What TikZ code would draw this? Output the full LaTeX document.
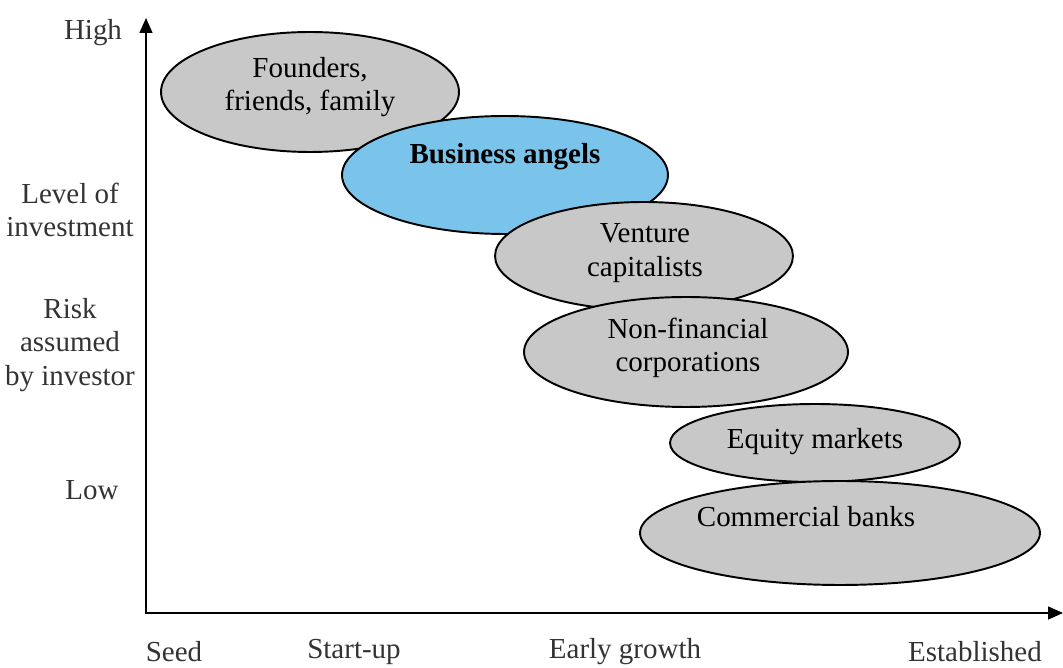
\documentclass[tikz,border=0pt]{standalone}
\usepackage{fontspec}
\setmainfont{Liberation Serif}
\newfontfamily\stagefont{Liberation Serif}
\usepackage{tikz}
\usetikzlibrary{positioning, arrows.meta, shapes.geometric}
\usepackage{xcolor}
\definecolor{stagegray}{RGB}{200,200,200}
\definecolor{angelblue}{RGB}{122,196,236}

\begin{document}
\begin{tikzpicture}[
    x=0.02cm, y=-0.02cm,
    font=\stagefont\fontsize{16.5}{19}\selectfont,
    stage/.style={ellipse,draw,line width=1.1pt,fill=stagegray,inner sep=0pt},
    txt/.style={align=center,inner sep=0pt},
    axlab/.style={align=center,text=black!80},
    axtip/.tip={Triangle[length=3mm,width=2.6mm]}
    ]
    \useasboundingbox (0,0) rectangle (1063,668);
    % axes
    \coordinate (ytop) at (146,18);
    \coordinate (xend) at (1063,613);
    \draw [line width=0.8pt,axtip-axtip] (ytop) |- (xend);
    % stages of financing
    \node [stage, minimum width=5.96cm, minimum height=2.4cm] (fff) at (310,92) {};
    \node [txt] (fffl) at (310,87) {Founders,\\friends, family};
    \node [stage, fill=angelblue, minimum width=6.52cm, minimum height=2.36cm] (ba) at (505,175) {};
    \node [txt, font=\stagefont\fontsize{16.5}{19}\selectfont\bfseries] (bal) at (505,157) {Business angels};
    \node [stage, minimum width=5.96cm, minimum height=2.16cm] (vc) at (644,256) {};
    \node [txt] (vcl) at (645,253) {Venture\\capitalists};
    \node [stage, minimum width=6.48cm, minimum height=2.2cm] (nfc) at (686,352) {};
    \node [txt] (nfcl) at (688,348) {Non-financial\\corporations};
    \node [stage, minimum width=5.8cm, minimum height=1.56cm] (em) at (815,443) {};
    \node [txt] (eml) at (815,442) {Equity markets};
    \node [stage, minimum width=8cm, minimum height=2.08cm] (cb) at (840,533) {};
    \node [txt] (cbl) at (806,517) {Commercial banks};
    % axis labels
    \node [axlab] (high) at (93,33) {High};
    \node [axlab] (loi) at (70,210) {Level of\\investment};
    \node [axlab] (risk) at (70,345) {Risk\\assumed\\by investor};
    \node [axlab] (low) at (92,490) {Low};
    \node [axlab] (seed) at (174,652) {Seed};
    \node [axlab] (start) at (354,652) {Start-up};
    \node [axlab] (early) at (625,652) {Early growth};
    \node [axlab] (estab) at (975,652) {Established};
\end{tikzpicture}
\end{document}
